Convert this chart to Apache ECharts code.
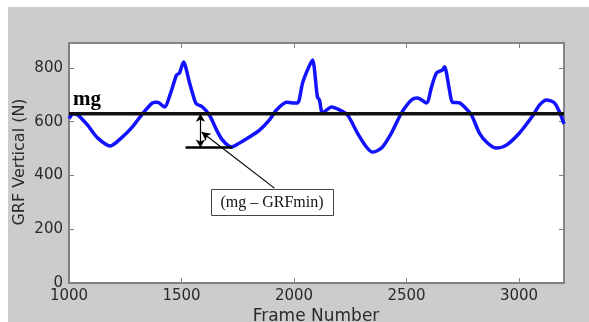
<!DOCTYPE html>
<html><head><meta charset="utf-8">
<script src="https://cdn.jsdelivr.net/npm/echarts@6/dist/echarts.min.js"></script>
<style>html,body{margin:0;padding:0;background:#fff}#c{width:589px;height:322px}</style>
</head><body><div id="c"></div>
<script>
// ---- data ----
const frames = [1000,1020,1040,1082,1127,1184,1233,1278,1322,1371,1393,1424,1456,1478,1491,1509,1536,1558,1567,1593,1624,1656,1682,1722,1758,1802,1847,1891,1922,1967,1993,2016,2038,2060,2082,2104,2113,2127,2167,2202,2238,2282,2322,2349,2389,2433,2478,2522,2549,2589,2611,2633,2660,2669,2691,2704,2736,2758,2789,2824,2860,2900,2944,3002,3060,3091,3122,3158,3180,3200];
const grf    = [612,630,625,588,540,510,540,577,625,670,673,655,718,774,781,822,744,681,666,655,625,569,532,506,521,543,569,607,644,673,670,670,744,793,830,692,681,633,655,644,625,558,506,487,502,558,633,681,688,670,729,781,793,805,718,673,670,655,625,558,521,502,513,558,621,662,681,670,636,592];
const mgValue = 630;
const grfMinValue = 504;
const minLineFrames = [1518, 1727];
const arrowFrame = 1584;
const pointerFrom = [1913, 353];
const pointerTo = [1589, 562];
const xTickLabels = [1000, 1500, 2000, 2500, 3000];
const yTickLabels = [0, 200, 400, 600, 800];
const xRange = [1000, 3200];
const yRange = [0, 893];
const xTitle = 'Frame Number';
const yTitle = 'GRF Vertical (N)';
const mgLabel = 'mg';
const boxLabel = '(mg \u2013 GRFmin)';

const FONT = 'DejaVu Sans';
const AX = '#808080';
const chart = echarts.init(document.getElementById('c'), null, {renderer: 'canvas'});

const curve = frames.map((f, i) => [f, grf[i]]);

const tickStyle = {inside: true, length: 5, lineStyle: {color: AX, width: 1}};
const option = {
  animation: false,
  backgroundColor: '#cccccc',
  grid: {left: 69, top: 43, width: 495, height: 240, show: true, backgroundColor: '#ffffff', borderColor: AX, borderWidth: 1.5},
  xAxis: [
    {type: 'value', min: xRange[0], max: xRange[1], interval: 500, position: 'bottom',
     axisLine: {show: true, onZero: false, lineStyle: {color: AX, width: 2}},
     axisTick: tickStyle, splitLine: {show: false},
     axisLabel: {showMaxLabel: false, color: '#2a2a2a', fontFamily: FONT, fontSize: 15, margin: 6,
       formatter: v => xTickLabels.includes(v) ? String(v) : ''}},
    {type: 'value', min: xRange[0], max: xRange[1], interval: 500, position: 'top',
     axisLine: {show: true, onZero: false, lineStyle: {color: AX, width: 1.5}},
     axisTick: tickStyle, splitLine: {show: false}, axisLabel: {show: false}}
  ],
  yAxis: [
    {type: 'value', min: yRange[0], max: yRange[1], interval: 200, position: 'left',
     axisLine: {show: true, onZero: false, lineStyle: {color: AX, width: 2}},
     axisTick: tickStyle, splitLine: {show: false},
     axisLabel: {showMaxLabel: false, color: '#2a2a2a', fontFamily: FONT, fontSize: 15, margin: 6,
       formatter: v => yTickLabels.includes(v) ? String(v) : ''}},
    {type: 'value', min: yRange[0], max: yRange[1], interval: 200, position: 'right',
     axisLine: {show: true, onZero: false, lineStyle: {color: AX, width: 1.5}},
     axisTick: tickStyle, splitLine: {show: false}, axisLabel: {show: false}}
  ],
  graphic: [
    {type: 'rect', shape: {x: 0, y: 0, width: 589, height: 7}, style: {fill: '#fff'}, silent: true},
    {type: 'rect', shape: {x: 0, y: 0, width: 8, height: 322}, style: {fill: '#fff'}, silent: true},
    {type: 'text', x: 20, y: 162, rotation: Math.PI / 2, silent: true,
     style: {text: yTitle, font: '16px "DejaVu Sans"', fill: '#2a2a2a', align: 'center', verticalAlign: 'middle'}},
    {type: 'text', x: 316, y: 317, silent: true,
     style: {text: xTitle, font: '17px "DejaVu Sans"', fill: '#2a2a2a', align: 'center', verticalAlign: 'middle'}},
    {type: 'text', x: 73, y: 100, z: 50, silent: true,
     style: {text: mgLabel, font: 'bold 21px "Liberation Serif"', fill: '#000', align: 'left', verticalAlign: 'middle'}},
    {type: 'rect', z: 100, silent: true, shape: {x: 211.5, y: 189.5, width: 122, height: 26},
     style: {fill: '#fff', stroke: '#444', lineWidth: 1}},
    {type: 'text', x: 272, y: 203, z: 101, silent: true,
     style: {text: boxLabel, font: '16px "Liberation Serif"', fill: '#111', align: 'center', verticalAlign: 'middle'}}
  ],
  series: [
    {type: 'line', name: 'GRF', data: curve, smooth: 0.25, symbol: 'none', z: 3,
     lineStyle: {color: '#1212ff', width: 3.5}, silent: true},
    {type: 'line', name: 'mg', data: [[xRange[0], mgValue], [xRange[1], mgValue]], symbol: 'none', z: 4,
     lineStyle: {color: '#111', width: 3.5}, silent: true,
     markLine: {silent: true, animation: false, label: {show: false}, emphasis: {disabled: true},
       lineStyle: {color: '#000', width: 1.2, type: 'solid'},
       data: [
         [{coord: [arrowFrame, mgValue], symbol: 'arrow', symbolSize: [7, 8]},
          {coord: [arrowFrame, grfMinValue], symbol: 'arrow', symbolSize: [7, 8]}],
         [{coord: pointerFrom, symbol: 'none'},
          {coord: pointerTo, symbol: 'arrow', symbolSize: [7, 9]}]
       ]}},
    {type: 'line', name: 'GRFmin', data: [[minLineFrames[0], grfMinValue], [minLineFrames[1], grfMinValue]],
     symbol: 'none', z: 4, lineStyle: {color: '#000', width: 2.5}, silent: true}
  ]
};
chart.setOption(option);
</script></body></html>
